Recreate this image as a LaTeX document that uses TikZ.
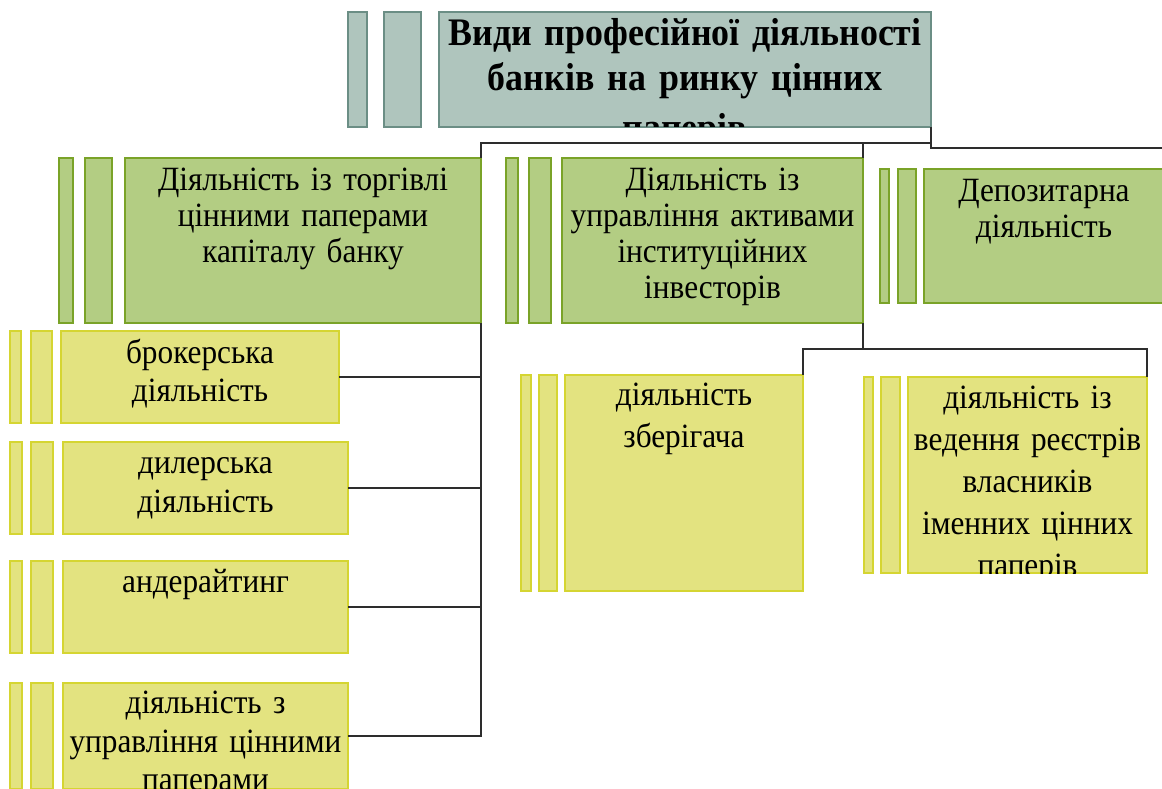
\documentclass[tikz,border=0pt]{standalone}
\usepackage{fontspec}
\setmainfont{Liberation Serif}[FakeStretch=0.92]
\definecolor{tfill}{RGB}{175,197,189}
\definecolor{tline}{RGB}{107,142,133}
\definecolor{gfill}{RGB}{179,205,131}
\definecolor{gline}{RGB}{122,163,40}
\definecolor{yfill}{RGB}{227,227,128}
\definecolor{yline}{RGB}{213,213,50}
\definecolor{cline}{RGB}{45,45,45}
\newcommand\mkmain[6]{%
  \node[#2, anchor=north west, minimum width={#4-#3}, minimum height={#6-#5}] (#1) at (#3,#5) {};}
\newcommand\mkstrips[8]{%
  \node[#2, anchor=north west, minimum width={#4-#3}, minimum height={#8-#7}] (#1-s1) at (#3,#7) {};
  \node[#2, anchor=north west, minimum width={#6-#5}, minimum height={#8-#7}] (#1-s2) at (#5,#7) {};}
\begin{document}
\begin{tikzpicture}[x=1pt,y=-1pt,
  every node/.style={inner sep=0pt, outer sep=0pt},
  titlebox/.style={draw=tline, fill=tfill, line width=1.2pt, rectangle},
  greenbox/.style={draw=gline, fill=gfill, line width=1.2pt, rectangle},
  yellowbox/.style={draw=yline, fill=yfill, line width=1.2pt, rectangle},
  conn/.style={draw=cline, line width=1.5pt},
  lbltitle/.style={anchor=base, align=center, font=\bfseries\fontsize{39}{45.3}\selectfont},
  lbltwo/.style={anchor=base, align=center, font=\fontsize{34}{36}\selectfont},
  lblthree/.style={anchor=base, align=center, font=\fontsize{34}{38.5}\selectfont},
  lblfour/.style={anchor=base, align=center, font=\fontsize{34}{42}\selectfont}]
\useasboundingbox (0,0) rectangle (1162,789);
\clip (0,0) rectangle (1162,789);
\fill[white] (0,0) rectangle (1162,789);

% title
\mkstrips{title}{titlebox}{348}{367}{384}{421}{12}{127}
\mkmain{title}{titlebox}{439}{931}{12}{127}
% level 2
\mkstrips{A}{greenbox}{59}{73}{85}{112}{158}{323}
\mkmain{A}{greenbox}{125}{481}{158}{323}
\mkstrips{B}{greenbox}{506}{518}{529}{551}{158}{323}
\mkmain{B}{greenbox}{562}{863}{158}{323}
\mkstrips{C}{greenbox}{880}{889}{898}{916}{169}{303}
\mkmain{C}{greenbox}{924}{1164}{169}{303}
% level 3 under A
\mkstrips{b1}{yellowbox}{10}{21}{31}{52}{331}{423}
\mkmain{b1}{yellowbox}{61}{339}{331}{423}
\mkstrips{b2}{yellowbox}{10}{22}{31}{53}{442}{534}
\mkmain{b2}{yellowbox}{63}{348}{442}{534}
\mkstrips{b3}{yellowbox}{10}{22}{31}{53}{561}{653}
\mkmain{b3}{yellowbox}{63}{348}{561}{653}
\mkstrips{b4}{yellowbox}{10}{22}{31}{53}{683}{789}
\mkmain{b4}{yellowbox}{63}{348}{683}{789}
% level 3 under B
\mkstrips{s1}{yellowbox}{521}{531}{539}{557}{375}{591}
\mkmain{s1}{yellowbox}{565}{803}{375}{591}
\mkstrips{s2}{yellowbox}{864}{873}{881}{900}{377}{573}
\mkmain{s2}{yellowbox}{908}{1147}{377}{573}

% texts
\begin{scope}
  \clip (title.north west) rectangle (title.south east);
  \node[lbltitle, text width=540pt] (title-t) at ([yshift=-33.7pt]title.north)
    {Види професійної діяльності\\банків на ринку цінних\\[4pt]паперів};
\end{scope}
\node[lbltwo, text width=380pt] (A-t) at ([yshift=-32.5pt]A.north)
  {Діяльність із торгівлі\\цінними паперами\\капіталу банку};
\node[lbltwo, text width=340pt] (B-t) at ([yshift=-32pt]B.north)
  {Діяльність із\\управління активами\\інституційних\\інвесторів};
\node[lbltwo, text width=280pt] (C-t) at ([yshift=-32pt]C.north)
  {Депозитарна\\діяльність};
\node[lblthree, text width=300pt] (b1-t) at ([yshift=-32pt]b1.north)
  {брокерська\\діяльність};
\node[lblthree, text width=300pt] (b2-t) at ([yshift=-31.5pt]b2.north)
  {дилерська\\діяльність};
\node[lblthree, text width=300pt] (b3-t) at ([yshift=-31pt]b3.north)
  {андерайтинг};
\node[lblthree, text width=320pt] (b4-t) at ([yshift=-30.5pt]b4.north)
  {діяльність з\\управління цінними\\паперами};
\node[lblfour, text width=280pt] (s1-t) at ([yshift=-30.5pt]s1.north)
  {діяльність\\зберігача};
\begin{scope}
  \clip (s2.north west) rectangle (s2.south east);
  \node[lblfour, text width=280pt] (s2-t) at ([yshift=-31pt]s2.north)
    {діяльність із\\ведення реєстрів\\власників\\іменних цінних\\паперів};
\end{scope}

% connectors
\coordinate (edgeR) at (1162,148);
\draw[conn] (A.north east) -- ++(0,-15) -| (title.south east);
\draw[conn] (B.north east) -- ++(0,-15);
\draw[conn] (title.south east) |- (edgeR);
\foreach \c in {b1,b2,b3,b4} \draw[conn] (A.south east) |- (\c.east);
\draw[conn] (B.south east) -- ++(0,26) -| (s1.north east);
\draw[conn] (B.south east) -- ++(0,26) -| (s2.north east);
\end{tikzpicture}
\end{document}
